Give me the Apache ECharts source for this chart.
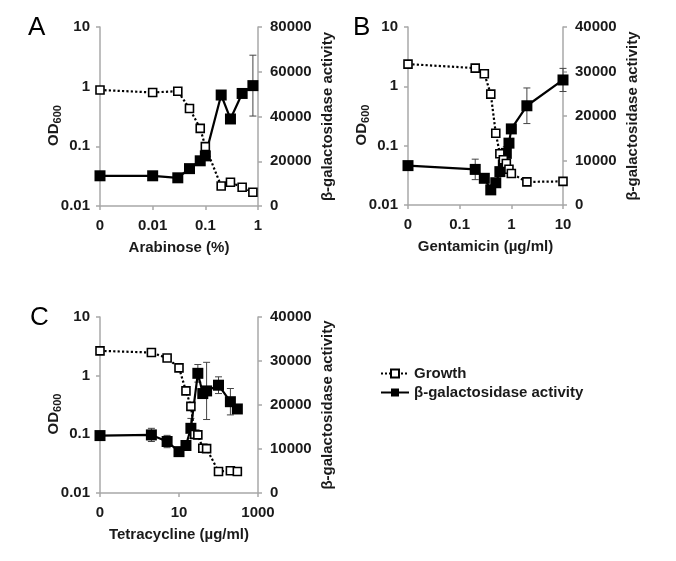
<!DOCTYPE html>
<html><head><meta charset="utf-8">
<script src="https://cdn.jsdelivr.net/npm/echarts@6/dist/echarts.min.js"></script>
<style>html,body{margin:0;padding:0;background:#fff}#c{width:676px;height:561px}</style>
</head><body><div id="c"></div>
<script>
// ---- Panel A: Arabinose (%) ----
const araDose      = [0, 0.01, 0.03, 0.05, 0.08, 0.1, 0.2, 0.3, 0.5, 0.8];
const araGrowth    = [0.88, 0.80, 0.84, 0.43, 0.20, 0.099, 0.0216, 0.025, 0.0206, 0.017];
const araBgal      = [13500, 13500, 12600, 16700, 20200, 22400, 49600, 38900, 50300, 53800];
const araBgalErr   = [0, 0, 0, 0, 1500, 0, 0, 0, 0, 13600];
// ---- Panel B: Gentamicin (µg/ml) ----
const genDose      = [0, 0.2, 0.3, 0.4, 0.5, 0.6, 0.7, 0.8, 0.9, 1, 2, 10];
const genGrowth    = [2.37, 2.03, 1.63, 0.74, 0.162, 0.073, 0.058, 0.05, 0.04, 0.034, 0.0245, 0.025];
const genBgal      = [8850, 8000, 6000, 3400, 5000, 7500, 9000, 11600, 13900, 17100, 22300, 28100];
const genBgalErr   = [0, 2300, 0, 0, 0, 0, 0, 1500, 0, 0, 4000, 2600];
// ---- Panel C: Tetracycline (µg/ml) ----
const tetGrowthDose = [0, 2, 5, 10, 15, 20, 25, 30, 40, 50, 100, 200, 300];
const tetGrowth     = [2.65, 2.48, 2.0, 1.36, 0.55, 0.30, 0.10, 0.098, 0.058, 0.057, 0.0233, 0.024, 0.0233];
const tetBgalDose   = [0, 2, 5, 10, 15, 20, 30, 40, 50, 100, 200, 300];
const tetBgal       = [13050, 13200, 11700, 9400, 10800, 14700, 27200, 22600, 23200, 24500, 20750, 19100];
const tetBgalErr    = [0, 1500, 1400, 0, 0, 2250, 2000, 0, 6500, 1900, 3000, 0];
// ---- Axis settings / labels ----
const odTicks   = [0.01, 0.1, 1, 10];
const xTicksA   = [0.001, 0.01, 0.1, 1];
const xTicksB   = [0.01, 0.1, 1, 10];
const xTicksC   = [0.1, 10, 1000];
const xNames    = ['Arabinose (%)', 'Gentamicin (µg/ml)', 'Tetracycline (µg/ml)'];
const rightMax  = [80000, 40000, 40000];
const rightStep = [20000, 10000, 10000];
const panelLetters = ['A', 'B', 'C'];
const seriesNames = ['Growth', 'β-galactosidase activity'];

const FONT = "'Liberation Sans', Arial, sans-serif";
const TXT = '#1a1a1a';
const AXC = '#a8a8a8';

const panels = [
  {dose: araDose, growth: araGrowth, gDose: araDose, bgal: araBgal, err: araBgalErr, xt: xTicksA,
   grid: {left: 100, top: 27, width: 158, height: 179}, letter: [28, 28]},
  {dose: genDose, growth: genGrowth, gDose: genDose, bgal: genBgal, err: genBgalErr, xt: xTicksB,
   grid: {left: 408, top: 27, width: 155, height: 178}, letter: [353, 28]},
  {dose: tetBgalDose, growth: tetGrowth, gDose: tetGrowthDose, bgal: tetBgal, err: tetBgalErr, xt: xTicksC,
   grid: {left: 100, top: 317, width: 158, height: 176}, letter: [30, 318]}
];

function fmtNum(v) { return String(+(+v).toPrecision(3)); }

const grids = [], xAxes = [], yAxes = [], series = [], graphics = [];
panels.forEach((p, i) => {
  const xmin = p.xt[0], xmax = p.xt[p.xt.length - 1];
  const zx = d => (d === 0 ? xmin : d);   // "0" dose is plotted at the axis origin
  grids.push(Object.assign({containLabel: false}, p.grid));
  xAxes.push({
    type: 'log', logBase: 10, gridIndex: i, min: xmin, max: xmax,
    name: xNames[i], nameLocation: 'middle', nameGap: 34,
    nameTextStyle: {fontSize: 15, fontWeight: 'bold', color: TXT, fontFamily: FONT},
    axisLine: {lineStyle: {color: AXC, width: 1.5}},
    axisTick: {show: true, length: 4, lineStyle: {color: AXC, width: 1.5}, customValues: p.xt},
    axisLabel: {margin: 12, fontSize: 15, fontWeight: 'bold', color: TXT, fontFamily: FONT,
      customValues: p.xt,
      formatter: v => (Math.abs(v - xmin) < xmin * 1e-3 ? '0' : fmtNum(v))},
    splitLine: {show: false}, minorTick: {show: false}
  });
  yAxes.push({
    type: 'log', logBase: 10, gridIndex: i, position: 'left', min: 0.01, max: 10,
    name: '{a|OD}{b|600}', nameLocation: 'middle', nameGap: 37, nameMoveOverlap: false,
    nameTextStyle: {fontSize: 15, fontWeight: 'bold', color: TXT, fontFamily: FONT, padding: [0, 18, 0, 0], rich: {
      a: {fontSize: 15, fontWeight: 'bold', color: TXT, fontFamily: FONT},
      b: {fontSize: 11, fontWeight: 'bold', color: TXT, fontFamily: FONT, padding: [7, 0, 0, 0]}
    }},
    axisLine: {show: true, lineStyle: {color: AXC, width: 1.5}},
    axisTick: {show: true, length: 4, lineStyle: {color: AXC, width: 1.5}},
    axisLabel: {margin: 10, fontSize: 15, fontWeight: 'bold', color: TXT, fontFamily: FONT, formatter: v => fmtNum(v)},
    splitLine: {show: false}, minorTick: {show: false}
  });
  yAxes.push({
    type: 'value', gridIndex: i, position: 'right', min: 0, max: rightMax[i], interval: rightStep[i],
    name: seriesNames[1], nameLocation: 'middle', nameGap: 62,
    nameTextStyle: {fontSize: 15, fontWeight: 'bold', color: TXT, fontFamily: FONT},
    axisLine: {show: true, lineStyle: {color: AXC, width: 1.5}},
    axisTick: {show: true, length: 4, lineStyle: {color: AXC, width: 1.5}},
    axisLabel: {margin: 12, fontSize: 15, fontWeight: 'bold', color: TXT, fontFamily: FONT, formatter: v => String(Math.round(v))},
    splitLine: {show: false}
  });
  // error bars (beta-gal)
  const ed = [];
  p.dose.forEach((d, k) => { if (p.err[k] > 0) ed.push([zx(d), p.bgal[k] - p.err[k], p.bgal[k] + p.err[k]]); });
  series.push({
    type: 'custom', xAxisIndex: i, yAxisIndex: i * 2 + 1, z: 1, silent: true,
    encode: {x: 0, y: [1, 2]}, data: ed,
    renderItem: (params, api) => {
      const x = api.value(0);
      const p1 = api.coord([x, api.value(1)]), p2 = api.coord([x, api.value(2)]);
      const w = 3.5, st = {stroke: '#444', lineWidth: 1};
      return {type: 'group', children: [
        {type: 'line', shape: {x1: p1[0], y1: p1[1], x2: p2[0], y2: p2[1]}, style: st},
        {type: 'line', shape: {x1: p1[0] - w, y1: p1[1], x2: p1[0] + w, y2: p1[1]}, style: st},
        {type: 'line', shape: {x1: p2[0] - w, y1: p2[1], x2: p2[0] + w, y2: p2[1]}, style: st}
      ]};
    }
  });
  series.push({
    name: seriesNames[1], type: 'line', xAxisIndex: i, yAxisIndex: i * 2 + 1, z: 2,
    data: p.dose.map((d, k) => [zx(d), p.bgal[k]]),
    symbol: 'rect', symbolSize: 11, showSymbol: true,
    itemStyle: {color: '#000', borderColor: '#000', borderWidth: 0},
    lineStyle: {color: '#000', width: 2.2, type: 'solid'}, animation: false
  });
  series.push({
    name: seriesNames[0], type: 'line', xAxisIndex: i, yAxisIndex: i * 2, z: 3,
    data: p.gDose.map((d, k) => [zx(d), p.growth[k]]),
    symbol: 'rect', symbolSize: 8, showSymbol: true,
    itemStyle: {color: '#fff', borderColor: '#000', borderWidth: 1.6},
    lineStyle: {color: '#000', width: 2.2, type: 'dotted'}, animation: false
  });
  graphics.push({type: 'text', left: p.letter[0], top: p.letter[1] - 13,
    style: {text: panelLetters[i], font: "26px " + FONT, fill: '#000'}});
});

const chart = echarts.init(document.getElementById('c'), null, {renderer: 'canvas'});
chart.setOption({
  animation: false,
  backgroundColor: '#fff',
  grid: grids, xAxis: xAxes, yAxis: yAxes, series: series, graphic: graphics,
  legend: {
    data: seriesNames.map(n => ({name: n})), orient: 'vertical', left: 375, top: 361,
    itemWidth: 28, itemHeight: 10, itemGap: 4, selectedMode: false,
    textStyle: {fontSize: 15, fontWeight: 'bold', color: TXT, fontFamily: FONT}
  }
});
</script></body></html>
